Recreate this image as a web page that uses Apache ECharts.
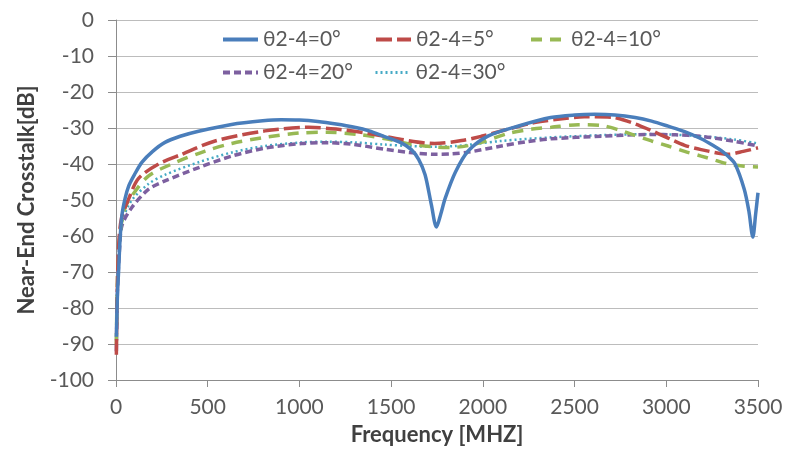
<!DOCTYPE html>
<html>
<head>
<meta charset="utf-8">
<script src="https://cdn.jsdelivr.net/npm/echarts@6/dist/echarts.min.js"></script>
<style>
html,body{margin:0;padding:0;background:#fff;}
#chart{width:789px;height:459px;}
</style>
</head>
<body>
<div id="chart"></div>
<script>
// Series names
var seriesNames = ['θ2-4=0°', 'θ2-4=5°', 'θ2-4=10°', 'θ2-4=20°', 'θ2-4=30°'];

// θ2-4 = 0°
var freq0 = [2, 8, 14, 22, 33, 50, 70, 100, 142, 200, 267, 350, 450, 630, 800, 900, 1000, 1100, 1200, 1300, 1380, 1460, 1550, 1610, 1650, 1685, 1720, 1747, 1770, 1795, 1850, 1920, 2030, 2190, 2370, 2500, 2610, 2720, 2830, 2920, 3010, 3100, 3190, 3260, 3300, 3340, 3375, 3425, 3450, 3472, 3487, 3500];
var xtalk0 = [-88, -76, -70, -61, -54, -49.5, -46, -43, -39.5, -36.5, -34, -32.3, -30.9, -29, -28, -27.7, -27.8, -28.2, -28.9, -29.8, -30.8, -32.3, -34, -36, -38.7, -43, -51.5, -57.5, -54, -49.5, -42.3, -36.4, -32.2, -29.5, -27.1, -26.4, -26.2, -26.4, -27.1, -28.1, -29.5, -31, -33, -35, -36.3, -38, -40, -47, -53, -60.3, -54, -48];

// θ2-4 = 5°
var freq5 = [2, 6, 14, 30, 69, 123, 232, 359, 540, 812, 1050, 1200, 1377, 1557, 1737, 1884, 1992, 2140, 2281, 2420, 2553, 2700, 2800, 2900, 3010, 3100, 3190, 3337, 3420, 3500];
var xtalk5 = [-93, -78, -63, -55, -49.7, -44, -40, -37.3, -33.6, -30.8, -29.8, -30.3, -31.5, -33.2, -34.3, -33.5, -32.3, -30.3, -28.5, -27.5, -26.9, -27, -28.3, -30.3, -32.8, -34.8, -36, -37.3, -36.5, -35.5];

// θ2-4 = 10°
var freq10 = [2, 8, 23, 50, 87, 178, 323, 486, 631, 812, 1000, 1150, 1323, 1470, 1611, 1750, 1829, 1920, 1992, 2139, 2270, 2373, 2520, 2646, 2740, 2825, 2920, 3010, 3100, 3190, 3270, 3337, 3424, 3500];
var xtalk10 = [-90, -72, -59, -52, -48.8, -43.3, -39.6, -36.4, -34.3, -32.6, -31.4, -31.2, -31.8, -33, -34.5, -35.3, -35.4, -34.9, -34, -31.5, -30.3, -29.8, -29.1, -29.3, -30.5, -32, -33.6, -35, -36.5, -37.8, -39, -40, -40.6, -40.8];

// θ2-4 = 20°
var freq20 = [2, 8, 20, 33, 87, 178, 267, 451, 631, 812, 1013, 1150, 1285, 1464, 1600, 1737, 1830, 1922, 2101, 2240, 2373, 2646, 2918, 3050, 3190, 3370, 3500];
var xtalk20 = [-92, -75, -63, -57, -52, -47, -44.7, -41, -37.8, -35.6, -34.3, -34.1, -34.5, -35.9, -36.8, -37.3, -37.2, -36.7, -35, -33.8, -33, -32.3, -31.8, -31.9, -32.3, -33.7, -35];

// θ2-4 = 30°
var freq30 = [2, 8, 20, 40, 87, 178, 267, 451, 631, 812, 1013, 1150, 1300, 1464, 1600, 1737, 1850, 1950, 2100, 2373, 2646, 2918, 3190, 3370, 3500];
var xtalk30 = [-85, -72, -62, -55, -50, -45.5, -43, -39.5, -36.8, -35, -34, -33.8, -34, -34.6, -35, -35.2, -35, -34.5, -33.6, -32.6, -32, -31.7, -32.3, -33.2, -34.3];

// Axis ticks
var xTicks = [0, 500, 1000, 1500, 2000, 2500, 3000, 3500];
var yTicks = [0, -10, -20, -30, -40, -50, -60, -70, -80, -90, -100];

var colors = ['#4A7EBB', '#BE4B48', '#98B954', '#7D60A0', '#46AAC5'];
var styles = [
  {width: 3.5, type: 'solid'},
  {width: 3.5, type: [16, 5]},
  {width: 3.5, type: [11, 8]},
  {width: 3.5, type: [7, 4]},
  {width: 2.5, type: [2, 3]}
];
var freqs = [freq0, freq5, freq10, freq20, freq30];
var vals = [xtalk0, xtalk5, xtalk10, xtalk20, xtalk30];

function pairs(f, v) { return f.map(function (x, i) { return [x, v[i]]; }); }

var FONT = 'Lato';
var series = seriesNames.map(function (n, i) {
  return {
    name: n, type: 'line', data: pairs(freqs[i], vals[i]),
    symbol: 'none', smooth: 0.3, z: 10 - i,
    lineStyle: {color: colors[i], width: styles[i].width, type: styles[i].type},
    itemStyle: {color: colors[i]}
  };
});

var legendPos = [[216, 24], [369, 24], [524, 24], [216, 57], [369, 57]];
var legends = seriesNames.map(function (n, i) {
  return {
    data: [n], left: legendPos[i][0], top: legendPos[i][1],
    itemWidth: 35, itemHeight: 2, itemGap: 0,
    itemStyle: {opacity: 0},
    lineStyle: {width: styles[i].width + 0.5, type: styles[i].type, color: colors[i]},
    textStyle: {fontFamily: FONT, fontSize: 21, color: '#595959'},
    selectedMode: false
  };
});

var chart = echarts.init(document.getElementById('chart'), null, {renderer: 'canvas'});
chart.setOption({
  animation: false,
  backgroundColor: '#ffffff',
  color: colors,
  legend: legends,
  grid: {left: 116, right: 31, top: 20, bottom: 79, containLabel: false},
  xAxis: {
    type: 'value', min: xTicks[0], max: xTicks[xTicks.length - 1], interval: 500,
    name: 'Frequency [MHZ]', nameLocation: 'middle', nameGap: 44,
    nameTextStyle: {fontFamily: FONT, fontSize: 22, fontWeight: 'bold', color: '#404040'},
    axisLine: {show: true, onZero: false, lineStyle: {color: '#8c8c8c', width: 1}},
    axisTick: {show: true, length: 7, lineStyle: {color: '#8c8c8c'}},
    axisLabel: {fontFamily: FONT, fontSize: 21, color: '#595959', margin: 17,
      formatter: function (v) { return String(v); }},
    splitLine: {show: false}
  },
  yAxis: {
    type: 'value', min: yTicks[yTicks.length - 1], max: yTicks[0], interval: 10,
    name: 'Near-End Crosstalk[dB]', nameLocation: 'middle', nameGap: 78, nameRotate: 90,
    nameTextStyle: {fontFamily: FONT, fontSize: 22, fontWeight: 'bold', color: '#404040'},
    axisLine: {show: true, lineStyle: {color: '#8c8c8c', width: 1}},
    axisTick: {show: true, length: 8, lineStyle: {color: '#8c8c8c'}},
    axisLabel: {fontFamily: FONT, fontSize: 21, color: '#595959', margin: 22,
      formatter: function (v) { return String(v); }},
    splitLine: {show: true, lineStyle: {color: '#bcbcbc', width: 1}}
  },
  series: series
});
</script>
</body>
</html>
